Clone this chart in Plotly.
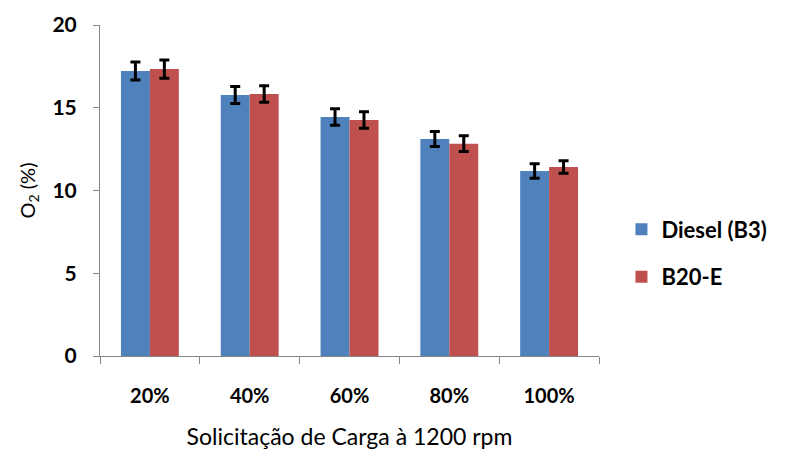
import plotly.graph_objects as go

categories = ["20%", "40%", "60%", "80%", "100%"]
diesel = [17.22, 15.77, 14.44, 13.11, 11.18]
diesel_err = [0.55, 0.52, 0.5, 0.45, 0.44]
b20 = [17.34, 15.83, 14.26, 12.83, 11.42]
b20_err = [0.55, 0.5, 0.5, 0.48, 0.38]

font_family = "Lato, 'Open Sans', sans-serif"

fig = go.Figure()
fig.add_trace(go.Bar(
    x=categories, y=diesel, name="Diesel (B3)", legendgroup="a",
    marker=dict(color="#4F81BD", line=dict(width=0)),
    error_y=dict(type="data", array=diesel_err, color="black", thickness=3, width=5),
))
fig.add_trace(go.Bar(
    x=categories, y=b20, name="B20-E", legendgroup="b",
    marker=dict(color="#C0504D", line=dict(width=0)),
    error_y=dict(type="data", array=b20_err, color="black", thickness=3, width=5),
))

fig.update_layout(
    width=785, height=453,
    margin=dict(l=92, r=194, t=17, b=105, autoexpand=False),
    paper_bgcolor="white", plot_bgcolor="white",
    barmode="group", bargap=0.42, bargroupgap=0,
    font=dict(family=font_family, color="black"),
    showlegend=True,
    legend=dict(x=1.045, y=0.31, xanchor="left", yanchor="middle",
                font=dict(size=22, family=font_family, weight="bold"),
                traceorder="grouped", tracegroupgap=16,
                itemsizing="constant", itemwidth=30, bgcolor="rgba(0,0,0,0)"),
    xaxis=dict(
        showline=True, linecolor="#868686", linewidth=1,
        ticks="outside", tickson="boundaries", ticklen=7, tickcolor="#868686",
        tickfont=dict(size=20, weight="bold"), ticklabelstandoff=22,
        title=dict(text="Solicitação de Carga à 1200 rpm", font=dict(size=23), standoff=22),
        showgrid=False,
    ),
    yaxis=dict(
        range=[0, 20], dtick=5,
        showline=True, linecolor="#868686", linewidth=1,
        ticks="outside", ticklen=6, tickcolor="#868686",
        tickfont=dict(size=21, weight="bold"), ticklabelstandoff=12,
        title=dict(text="O<sub>2</sub> (%)", font=dict(size=20), standoff=11),
        showgrid=False, zeroline=False,
    ),
)

fig.write_html("out.html")
